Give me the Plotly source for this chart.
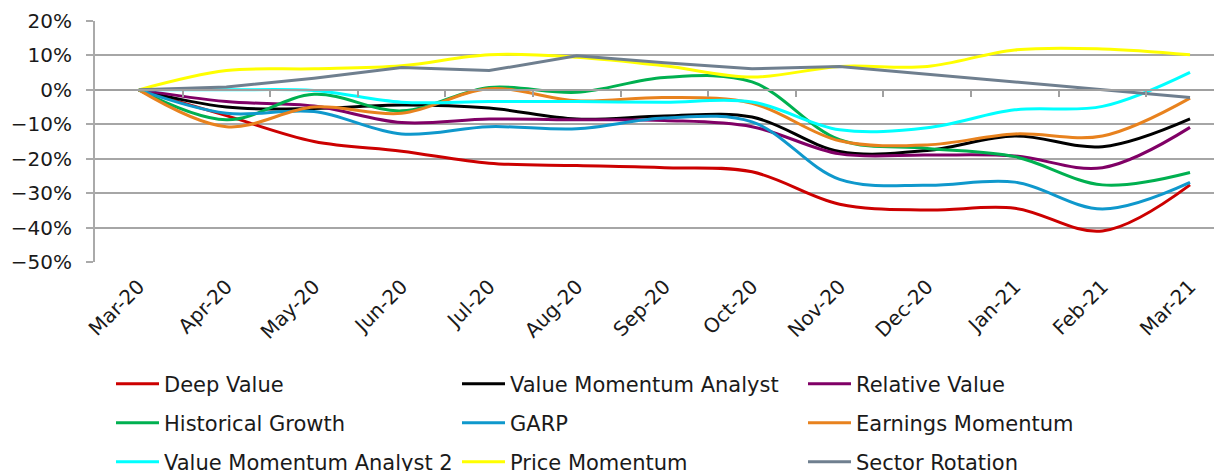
import plotly.graph_objects as go

months = ["Mar-20", "Apr-20", "May-20", "Jun-20", "Jul-20", "Aug-20", "Sep-20",
          "Oct-20", "Nov-20", "Dec-20", "Jan-21", "Feb-21", "Mar-21"]

deep_value = [0.0, -7.5, -15.0, -17.8, -21.3, -22.0, -22.6, -23.8, -33.2, -34.9, -34.4, -41.0, -27.6]
value_momentum_analyst = [0.0, -5.0, -5.4, -4.4, -5.3, -8.5, -7.6, -7.9, -17.9, -17.6, -13.4, -16.5, -8.4]
relative_value = [0.0, -3.4, -4.7, -9.5, -8.5, -8.7, -8.9, -10.7, -18.6, -18.9, -19.2, -22.6, -10.9]
historical_growth = [0.0, -8.7, -1.3, -6.1, 0.7, -0.7, 3.6, 2.3, -14.5, -17.0, -19.4, -27.6, -24.0]
garp = [0.0, -6.8, -6.3, -12.8, -10.7, -11.3, -8.2, -9.3, -26.0, -27.7, -26.8, -34.6, -26.9]
earnings_momentum = [0.0, -10.7, -5.0, -6.8, 0.3, -3.2, -2.2, -3.9, -14.8, -16.0, -12.8, -13.4, -2.4]
value_momentum_analyst_2 = [0.0, 0.0, -0.2, -3.6, -3.4, -3.4, -3.6, -3.5, -11.6, -11.0, -5.8, -4.8, 5.1]
price_momentum = [0.0, 5.6, 6.1, 7.0, 10.2, 9.5, 7.0, 3.7, 6.8, 6.8, 11.6, 11.9, 10.2]
sector_rotation = [0.0, 0.8, 3.4, 6.5, 5.6, 9.9, 7.9, 6.1, 6.8, 4.6, 2.4, 0.2, -2.2]

series = [
    ("Deep Value", deep_value, "#cc0000", "spline", "legend"),
    ("Value Momentum Analyst", value_momentum_analyst, "#000000", "spline", "legend"),
    ("Relative Value", relative_value, "#800066", "spline", "legend"),
    ("Historical Growth", historical_growth, "#00b050", "spline", "legend2"),
    ("GARP", garp, "#0f98cc", "spline", "legend2"),
    ("Earnings Momentum", earnings_momentum, "#e8821e", "spline", "legend2"),
    ("Value Momentum Analyst 2", value_momentum_analyst_2, "#00ffff", "spline", "legend3"),
    ("Price Momentum", price_momentum, "#ffff00", "spline", "legend3"),
    ("Sector Rotation", sector_rotation, "#6f7f8f", "linear", "legend3"),
]

y_ticks = [0.2, 0.1, 0.0, -0.1, -0.2, -0.3, -0.4, -0.5]
y_inner_ticks = [0.1, 0.0, -0.1, -0.2, -0.3, -0.4]
boundaries = [i + 0.5 for i in range(12)]

FONT = "DejaVu Sans"
X_RANGE = [-0.5, 12.365]
Y_RANGE = [-0.5, 0.2]
PAGE_OFFSET = 8  # default body margin of the written page

fig = go.Figure()
for name, vals, color, shape, leg in series:
    fig.add_trace(go.Scatter(
        x=list(range(len(months))), y=[v / 100 for v in vals], name=name, mode="lines",
        line=dict(color=color, width=3, shape=shape, smoothing=1),
        legend=leg,
    ))
# empty trace so the overlay axes (inner grid, zero-line ticks) are drawn
fig.add_trace(go.Scatter(x=[], y=[], xaxis="x2", yaxis="y2", showlegend=False,
                         hoverinfo="skip"))

legend_common = dict(orientation="h", xanchor="left", yanchor="middle",
                     font=dict(family=FONT, size=21, color="#1a1a1a"),
                     entrywidth=288, itemwidth=43, bgcolor="rgba(0,0,0,0)",
                     itemclick=False, itemdoubleclick=False)
x_leg = (111 - 95) / 1127

fig.update_layout(
    width=1222 - PAGE_OFFSET, height=471 - PAGE_OFFSET,
    margin=dict(l=95 - PAGE_OFFSET, r=0, t=21 - PAGE_OFFSET, b=209, autoexpand=False),
    paper_bgcolor="white", plot_bgcolor="white",
    font=dict(family=FONT, size=20, color="#1a1a1a"),
    xaxis=dict(range=X_RANGE, tickmode="array", tickvals=list(range(len(months))),
               ticktext=months, tickangle=-45, showgrid=False, zeroline=False,
               showline=False, ticks="", ticklabelstandoff=8,
               tickfont=dict(family=FONT, size=20, color="#1a1a1a")),
    xaxis2=dict(range=X_RANGE, overlaying="x", anchor="free",
                position=(0 - Y_RANGE[0]) / (Y_RANGE[1] - Y_RANGE[0]),
                tickmode="array", tickvals=boundaries, showticklabels=False,
                ticks="outside", ticklen=6, tickwidth=2, tickcolor="#a0a0a0",
                showline=True, linecolor="#a0a0a0", linewidth=2,
                showgrid=False, zeroline=False),
    yaxis=dict(range=Y_RANGE, tickmode="array", tickvals=y_ticks, tickformat=".0%",
               showgrid=True, gridcolor="#eeeeee", gridwidth=2,
               zeroline=False, showline=True, linecolor="#aaaaaa", linewidth=2,
               ticks="outside", ticklen=7, tickwidth=2, tickcolor="#aaaaaa",
               ticklabelstandoff=10,
               tickfont=dict(family=FONT, size=20, color="#1a1a1a")),
    yaxis2=dict(range=Y_RANGE, overlaying="y", tickmode="array", tickvals=y_inner_ticks,
                showticklabels=False, showgrid=True, gridcolor="#a6a6a6", gridwidth=2,
                zeroline=False, showline=False, ticks=""),
    legend=dict(x=x_leg, y=(262 - 384) / 241, **legend_common),
    legend2=dict(x=x_leg, y=(262 - 423) / 241, **legend_common),
    legend3=dict(x=x_leg, y=(262 - 462) / 241, **legend_common),
)

fig.write_html("out.html")
